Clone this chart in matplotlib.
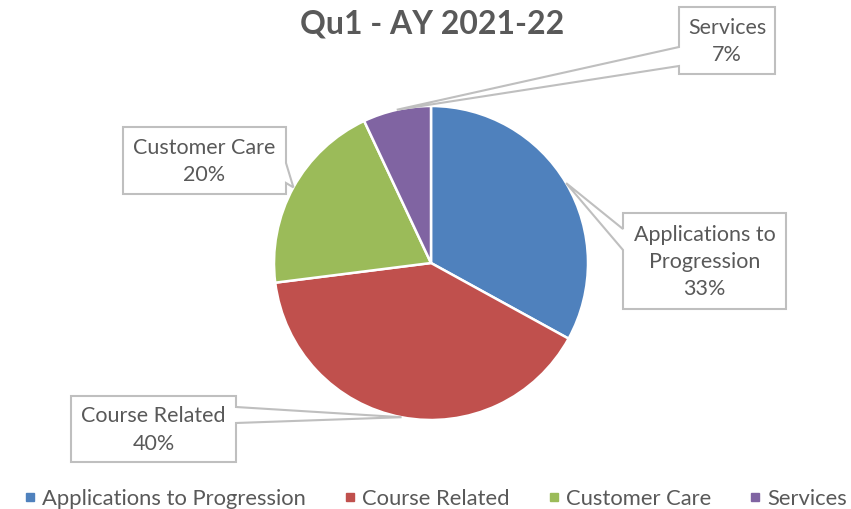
import matplotlib
matplotlib.use("Agg")
import matplotlib.pyplot as plt
import numpy as np
from matplotlib.patches import Polygon
from matplotlib.lines import Line2D

plt.rcParams['font.family'] = ['Lato', 'DejaVu Sans']

title = "Qu1 - AY 2021-22"
categories = ["Applications to Progression", "Course Related", "Customer Care", "Services"]
label_lines = ["Applications to\nProgression", "Course Related", "Customer Care", "Services"]
values = [33, 40, 20, 7]
colors = ["#4F81BD", "#C0504D", "#9BBB59", "#8064A2"]

W, H = 851, 509
TEXT = "#595959"
EDGE = "#BFBFBF"

fig = plt.figure(figsize=(W / 100, H / 100), dpi=100)
ax = fig.add_axes([0, 0, 1, 1])

cx, cy, R = 431, H - 263, 157
wedges, _ = ax.pie(values, colors=colors, startangle=90, counterclock=False,
                   center=(cx, cy), radius=R, frame=True,
                   wedgeprops=dict(edgecolor="white", linewidth=1.8))
ax.set_xlim(0, W)
ax.set_ylim(0, H)
ax.axis("off")

# callout boxes: (x0, y0, x1, y1) in pixel coords (top-left origin), side, base span
boxes = [
    ((623, 213, 786, 309), "left", (229, 250)),
    ((71, 396, 236, 462), "right", (407, 423)),
    ((123, 127, 286, 194), "right", (163, 183)),
    ((679, 7, 775, 74), "left", (47, 66)),
]

for w, txt, v, (box, side, base) in zip(wedges, label_lines, values, boxes):
    mid = np.deg2rad((w.theta1 + w.theta2) / 2)
    tx = cx + R * np.cos(mid)
    ty = cy + R * np.sin(mid)
    x0, y0, x1, y1 = box
    b0, b1 = base
    Y = lambda y: H - y
    if side == "left":
        pts = [(x0, Y(y0)), (x1, Y(y0)), (x1, Y(y1)), (x0, Y(y1)),
               (x0, Y(b1)), (tx, ty), (x0, Y(b0))]
    else:
        pts = [(x0, Y(y0)), (x1, Y(y0)), (x1, Y(b0)), (tx, ty), (x1, Y(b1)),
               (x1, Y(y1)), (x0, Y(y1))]
    ax.add_patch(Polygon(pts, closed=True, facecolor="white", edgecolor=EDGE,
                         linewidth=1.5, zorder=5))
    ax.text((x0 + x1) / 2, H - (y0 + y1) / 2 - 1, f"{txt}\n{v}%", ha="center", va="center",
            fontsize=15.5, color=TEXT, linespacing=1.45, zorder=6)

ax.text(432, H - 24, title, ha="center", va="center", fontsize=23,
        fontweight="bold", color=TEXT)

handles = [Line2D([], [], marker="s", linestyle="none", markersize=6,
                  markerfacecolor=c, markeredgecolor=c) for c in colors]
ax.legend(handles, categories, loc="lower center", bbox_to_anchor=(0.512, -0.038),
          ncol=4, frameon=False, fontsize=15.8, labelcolor=TEXT,
          handlelength=0.5, handletextpad=0.3, columnspacing=1.75)

fig.savefig("out.png", dpi=100, facecolor="white")
